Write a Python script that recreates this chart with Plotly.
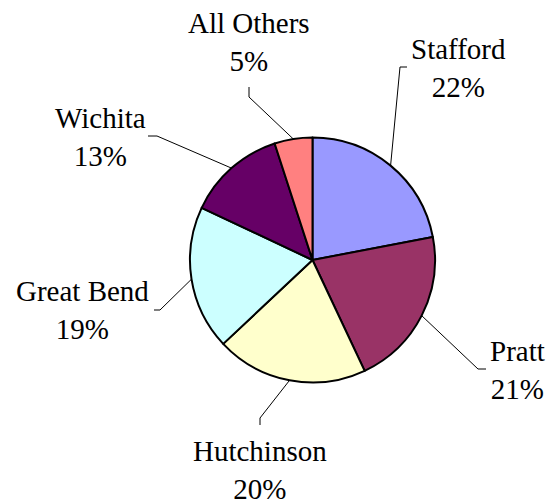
import math
import plotly.graph_objects as go

# ---- data ----
categories = ["Stafford", "Pratt", "Hutchinson", "Great Bend", "Wichita", "All Others"]
values = [22, 21, 20, 19, 13, 5]
colors = ["#9999FF", "#993366", "#FFFFCC", "#CCFFFF", "#660066", "#FF8080"]

# ---- layout constants (pixels) ----
W, H = 550, 503
CX, CY, R = 312.5, 260.0, 122.5
FONT = "Liberation Serif"
FS = 29

# label centres, leader elbow and leader end (pixel coords)
label_pos = {
    "Stafford": ((458, 68), (400, 67), (407, 67)),
    "Pratt": ((517, 370), (478, 369), (486, 369)),
    "Hutchinson": ((260, 470), (260, 418), (260, 425)),
    "Great Bend": ((82, 310), (160, 310), (154, 310)),
    "Wichita": ((100, 137), (157, 136), (148, 136)),
    "All Others": ((249, 42), (249, 97), (249, 87)),
}


def px(x):
    return x / W


def py(y):
    return 1 - y / H


fig = go.Figure(
    go.Pie(
        labels=categories,
        values=values,
        sort=False,
        direction="clockwise",
        rotation=0,
        marker=dict(colors=colors, line=dict(color="black", width=2)),
        textinfo="none",
        hoverinfo="skip",
        showlegend=False,
        domain=dict(x=[px(CX - R), px(CX + R)], y=[py(CY + R), py(CY - R)]),
    )
)

total = sum(values)
cum = 0.0
annotations = []
shapes = []
for cat, v in zip(categories, values):
    mid = (cum + v / 2) / total * 2 * math.pi
    cum += v
    sx = CX + R * math.sin(mid)
    sy = CY - R * math.cos(mid)
    (lx, ly), (ex, ey), (tx, ty) = label_pos[cat]
    pct = round(v / total * 100)
    annotations.append(
        dict(
            x=px(lx), y=py(ly), xref="paper", yref="paper",
            text=f"{cat}<br>{pct}%", showarrow=False,
            xanchor="center", yanchor="middle", align="center",
            font=dict(family=FONT, size=FS, color="black"),
        )
    )
    shapes.append(
        dict(
            type="path", xref="paper", yref="paper",
            path=f"M {px(sx)} {py(sy)} L {px(ex)} {py(ey)} L {px(tx)} {py(ty)}",
            line=dict(color="black", width=1),
        )
    )

fig.update_layout(
    width=W, height=H,
    margin=dict(l=0, r=0, t=0, b=0),
    paper_bgcolor="white",
    plot_bgcolor="white",
    font=dict(family=FONT),
    annotations=annotations,
    shapes=shapes,
)

fig.write_html(
    "out.html",
    config={"displayModeBar": False},
    post_script="document.body.style.margin='0';document.body.style.padding='0';",
)
